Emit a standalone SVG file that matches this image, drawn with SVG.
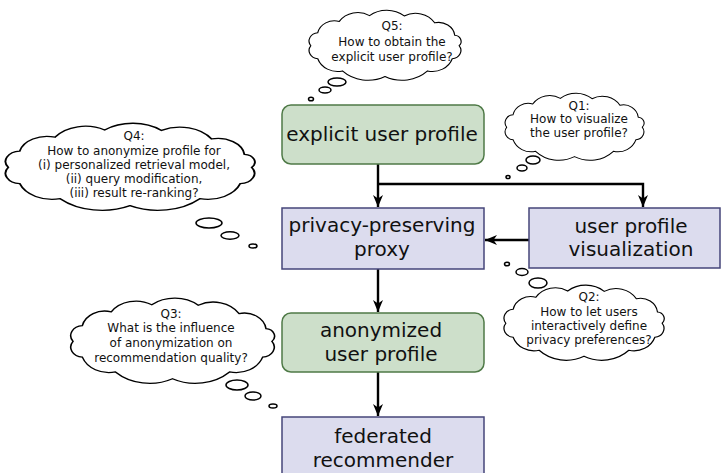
<svg xmlns="http://www.w3.org/2000/svg" width="721" height="473" viewBox="0 0 721 473">
<style>
.green{fill:#cddfca;stroke:#4f7a47;stroke-width:1.5}
.blue{fill:#dcdcee;stroke:#45457a;stroke-width:1.5}
.lbl{font-family:"DejaVu Sans",sans-serif;font-size:20px;fill:#111;text-anchor:middle}
.ct{font-family:"DejaVu Sans",sans-serif;font-size:12px;fill:#111;text-anchor:middle}
.cloud{fill:#fff;stroke:#000;stroke-width:1.5;vector-effect:non-scaling-stroke}
.bub{fill:#fff;stroke:#000;stroke-width:1.5}
.conn{fill:none;stroke:#000;stroke-width:2.4}
</style>
<defs>
<marker id="ah" markerUnits="userSpaceOnUse" markerWidth="14" markerHeight="12" viewBox="-12 -6 14 12" refX="0" refY="0" orient="auto">
<path d="M0,0 L-12,-5 L-8.5,0 L-12,5 z" fill="#000"/>
</marker>
<path id="cl" d="M5,50 A11.8,11.8 0 0 1 13.9,31.4 A21.8,21.8 0 0 1 41.5,15.3 A28.5,28.5 0 0 1 80.2,7 A34.8,34.8 0 0 1 124.6,7.5 A29.3,29.3 0 0 1 163.6,17.3 A20.9,20.9 0 0 1 189.3,35 A8.9,8.9 0 0 1 195,50 A11.8,11.8 0 0 1 186.1,68.6 A26.8,26.8 0 0 1 154.5,86 A46.7,46.7 0 0 1 100,94 A46.7,46.7 0 0 1 45.5,86 A26.8,26.8 0 0 1 13.9,68.6 A11.8,11.8 0 0 1 5,50 z"/>
</defs>

<g id="connectors">
<path class="conn" d="M378,164 V207" marker-end="url(#ah)"/>
<path class="conn" d="M378,184 H643 V207" marker-end="url(#ah)"/>
<path class="conn" d="M529,240 H485" marker-end="url(#ah)"/>
<path class="conn" d="M378,269 V312" marker-end="url(#ah)"/>
<path class="conn" d="M378,372 V416" marker-end="url(#ah)"/>
</g>

<g id="explicit">
<rect class="green" x="282" y="105" width="202" height="59" rx="9"/>
<text class="lbl" x="382" y="141">explicit user profile</text>
</g>
<g id="proxy">
<rect class="blue" x="282" y="208" width="202" height="61"/>
<text class="lbl" x="382" y="232">privacy-preserving</text>
<text class="lbl" x="382" y="256">proxy</text>
</g>
<g id="visualization">
<rect class="blue" x="529" y="208" width="191" height="60"/>
<text class="lbl" x="631" y="233">user profile</text>
<text class="lbl" x="631" y="256">visualization</text>
</g>
<g id="anonymized">
<rect class="green" x="282" y="313" width="202" height="59" rx="9"/>
<text class="lbl" x="381" y="337">anonymized</text>
<text class="lbl" x="381" y="361">user profile</text>
</g>
<g id="federated">
<rect class="blue" x="282" y="417" width="202" height="64"/>
<text class="lbl" x="383" y="443">federated</text>
<text class="lbl" x="383" y="467">recommender</text>
</g>

<g id="q5">
<use href="#cl" class="cloud" transform="translate(306.9,10.7) scale(0.781,0.70)"/>
<text class="ct" x="392" y="30">Q5:</text>
<text class="ct" x="392" y="46">How to obtain the</text>
<text class="ct" x="392" y="61">explicit user profile?</text>
<ellipse class="bub" cx="337" cy="82" rx="9" ry="4"/>
<ellipse class="bub" cx="325" cy="90" rx="6" ry="3"/>
<ellipse class="bub" cx="311" cy="99" rx="2.5" ry="1.8"/>
</g>
<g id="q1">
<use href="#cl" class="cloud" transform="translate(503.1,93.7) scale(0.714,0.67)"/>
<text class="ct" x="579" y="110">Q1:</text>
<text class="ct" x="579" y="123">How to visualize</text>
<text class="ct" x="579" y="137">the user profile?</text>
<ellipse class="bub" cx="533" cy="160" rx="7" ry="4"/>
<ellipse class="bub" cx="522" cy="168" rx="5" ry="3"/>
<ellipse class="bub" cx="508" cy="177" rx="2" ry="1.6"/>
</g>
<g id="q4">
<use href="#cl" class="cloud" transform="translate(1.9,123.9) scale(1.281,0.87)"/>
<text class="ct" x="134" y="140">Q4:</text>
<text class="ct" x="134" y="155">How to anonymize profile for</text>
<text class="ct" x="134" y="169">(i) personalized retrieval model,</text>
<text class="ct" x="134" y="183">(ii) query modification,</text>
<text class="ct" x="134" y="197">(iii) result re-ranking?</text>
<ellipse class="bub" cx="209" cy="223" rx="13" ry="5"/>
<ellipse class="bub" cx="230" cy="235.5" rx="9" ry="3.7"/>
<ellipse class="bub" cx="253" cy="246" rx="4" ry="2"/>
</g>
<g id="q2">
<use href="#cl" class="cloud" transform="translate(501.7,285.75) scale(0.823,0.75)"/>
<text class="ct" x="589" y="301">Q2:</text>
<text class="ct" x="589" y="316">How to let users</text>
<text class="ct" x="589" y="330">interactively define</text>
<text class="ct" x="589" y="344">privacy preferences?</text>
<ellipse class="bub" cx="538" cy="283" rx="9" ry="5"/>
<ellipse class="bub" cx="522" cy="272" rx="6" ry="3.5"/>
<ellipse class="bub" cx="507" cy="264" rx="2.5" ry="1.8"/>
</g>
<g id="q3">
<use href="#cl" class="cloud" transform="translate(67.8,298.85) scale(1.047,0.85)"/>
<text class="ct" x="171" y="318">Q3:</text>
<text class="ct" x="171" y="332">What is the influence</text>
<text class="ct" x="171" y="347">of anonymization on</text>
<text class="ct" x="171" y="362">recommendation quality?</text>
<ellipse class="bub" cx="237" cy="385" rx="11" ry="5"/>
<ellipse class="bub" cx="253" cy="396" rx="8" ry="4"/>
<ellipse class="bub" cx="273" cy="406" rx="4" ry="2"/>
</g>
</svg>
